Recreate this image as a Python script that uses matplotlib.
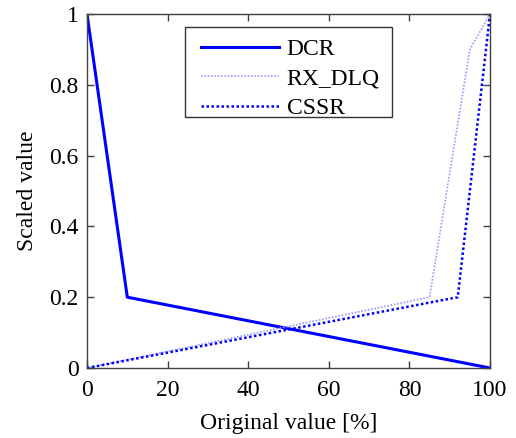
import matplotlib
matplotlib.use("Agg")
import matplotlib.pyplot as plt
from matplotlib.patches import Rectangle

plt.rcParams['font.family'] = ['Liberation Serif', 'DejaVu Serif']
plt.rcParams['mathtext.fontset'] = 'stix'

dcr_x = [0, 10, 100]
dcr_y = [1, 0.2, 0]
rx_x = [0, 85, 95, 100]
rx_y = [0, 0.2, 0.9, 1]
cssr_x = [0, 92, 100]
cssr_y = [0, 0.2, 1]

xticks = [0, 20, 40, 60, 80, 100]
yticks = [0, 0.2, 0.4, 0.6, 0.8, 1]
yticklabels = ['0', '0.2', '0.4', '0.6', '0.8', '1']

fig = plt.figure(figsize=(5.16, 4.38), dpi=100)
ax = fig.add_axes([87/516, 1-368/438, (490-87)/516, (368-14)/438])

ax.plot(dcr_x, dcr_y, color=(0, 0, 1), lw=2.2, label='DCR')
ax.plot(rx_x, rx_y, color=(0.6, 0.6, 1), lw=1.2, ls=(0, (1, 1)), label='RX_DLQ')
ax.plot(cssr_x, cssr_y, color=(0, 0, 1), lw=1.8, ls=(0, (1, 1)), label='CSSR')

ax.set_xlim(0, 100)
ax.set_ylim(0, 1)
ax.set_xticks(xticks)
ax.set_yticks(yticks)
ax.set_yticklabels(yticklabels)
ax.tick_params(direction='in', top=True, right=True, length=5, width=1,
               labelsize=17, color='0.25')
ax.tick_params(axis='y', pad=6)
ax.tick_params(axis='x', pad=9)
for s in ax.spines.values():
    s.set_color('0.25')
    s.set_linewidth(1.0)
ax.set_xlabel('Original value [%]', fontsize=17, labelpad=8)
ax.set_ylabel('Scaled value', fontsize=17, labelpad=8)

# legend box
ax.add_patch(Rectangle((0.243, 0.709), 0.514, 0.254, transform=ax.transAxes,
                       facecolor='white', edgecolor='0.2', lw=1.0, zorder=4))
leg = ax.legend(loc='upper left', bbox_to_anchor=(0.282, 0.930), borderaxespad=0,
                fontsize=17, handlelength=3.3, frameon=False, borderpad=0,
                labelspacing=0.33, handletextpad=0.34)
leg.set_zorder(5)

fig.savefig('out.png', dpi=100)
